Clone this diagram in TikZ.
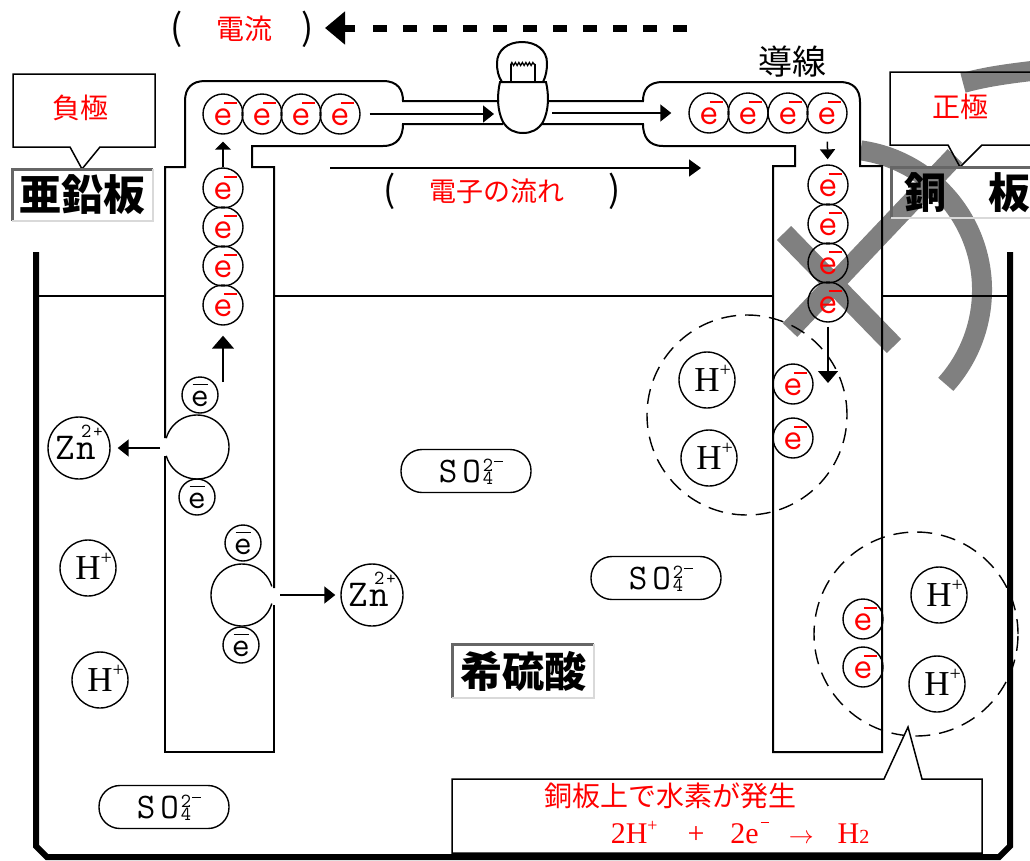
\documentclass[tikz,border=0pt]{standalone}
\usepackage{fontspec}
\setmainfont{Liberation Serif}
\newfontfamily\jp{Noto Sans CJK JP}
\usetikzlibrary{arrows.meta,decorations.pathmorphing}

\newcommand\fsz[1]{\fontsize{#1}{#1}\selectfont}
\newcommand\eneg{e\rlap{\kern-9pt\raisebox{22pt}{\rule{13pt}{1.3pt}}}}
\newcommand\ebar{e\rlap{\kern-16.5pt\raisebox{21pt}{\rule{15pt}{1.3pt}}}}
\newcommand\hion{H\rlap{\smash{\raisebox{15pt}{\fsz{20}+}}}\hspace{10pt}}
\newcommand\znion{Z\kern2pt n\llap{\smash{\raisebox{22pt}{\fsz{20}2}}\kern5pt}\kern-3pt\smash{\raisebox{22pt}{\fsz{18}+}}}
\newcommand\sulfate{S\kern5pt O\kern2pt\rlap{\smash{\raisebox{11pt}{\fsz{20}2}\kern1pt\raisebox{20pt}{\rule{9pt}{1.3pt}}}}\smash{\raisebox{-2pt}{\fsz{20}4}}\hspace{4pt}}

\begin{document}
\begin{tikzpicture}[
					x=1pt,y=-1pt,
					line width=1.5pt,
					wire/.style={line width=2pt},
					ecirc/.style={circle,draw,line width=1.4pt,minimum size=40pt,inner sep=0pt,text=red,font=\ttfamily\fsz{38}},
					esmall/.style={circle,draw,line width=1.4pt,minimum size=36pt,inner sep=0pt,font=\ttfamily\fsz{35}},
					ion/.style={circle,draw,line width=1.4pt,minimum size=56pt,inner sep=0pt,font=\fsz{35}},
					znball/.style={circle,draw,line width=1.4pt,minimum size=62pt,inner sep=0pt,font=\ttfamily\fsz{38}},
					sulf/.style={draw,line width=1.4pt,rounded corners=21pt,minimum width=130pt,minimum height=43pt,inner sep=0pt,font=\ttfamily\fsz{36}},
					zone/.style={circle,draw,line width=1.4pt,dash pattern=on 15pt off 9pt,minimum size=200pt,inner sep=0pt},
					arr/.style={line width=1.5pt,-{Triangle[length=11pt,width=17pt]}},
					xstroke/.style={line width=20pt,draw=gray},
					redlbl/.style={text=red,font=\jp\fsz{28}},
					paren/.style={font=\jp\fsz{36}},
					plate/.style={inner sep=0pt,font=\jp\bfseries\fsz{42}},
					bevdark/.style={line width=3pt,draw=gray!80!black},
					bevlite/.style={line width=2pt,draw=gray!30}
					]

					\useasboundingbox (0,0) rectangle (1030,860);
					\clip (0,0) rectangle (1030,860);

					\draw[xstroke] (784,233) -- (894,346);
					\draw[xstroke] (790,330) -- (955,156);
					\draw[xstroke] (841,290) ++(-82:141) arc[start angle=-82,end angle=42,radius=141];
					\draw[xstroke] (963,83) .. controls (985,77) and (1005,74) .. (1040,70);

					\draw[line width=6pt] (36,252) -- (36,846) -- (47,857) -- (999,857) -- (1010,846) -- (1010,252);
					\draw[line width=1.3pt] (39,296) -- (165,296) (274,296) -- (773,296) (882,296) -- (1007,296);

					\draw[wire] (499,101) -- (403,101) .. controls (403,90) and (398,81) .. (383,81) -- (205,81) .. controls (192,81) and (185,88) .. (185,101) -- (185,167) -- (165,167) -- (165,438);
					\draw[wire] (165,456) -- (165,752) -- (274,752) -- (274,605);
					\draw[wire] (274,588) -- (274,167) -- (252,167) -- (252,146) -- (383,146) .. controls (398,146) and (403,136) .. (403,124) -- (503,124);
					\draw[wire] (548,101) -- (643,101) .. controls (643,90) and (648,82) .. (663,82) -- (840,82) .. controls (853,82) and (860,89) .. (860,102) -- (860,166) -- (882,166) -- (882,752) -- (773,752) -- (773,166) -- (795,166) -- (795,146) -- (663,146) .. controls (648,146) and (643,136) .. (643,124) -- (542,124);

					\draw[wire] (502,82) .. controls (498,76) and (497,70) .. (497,63) .. controls (497,50) and (508,42) .. (522,42) .. controls (536,42) and (547,50) .. (547,63) .. controls (547,70) and (546,76) .. (543,82);
					\draw[wire] (500,82) .. controls (497,95) and (497,110) .. (503,122) .. controls (508,130) and (515,133) .. (523,133) .. controls (531,133) and (538,130) .. (543,122) .. controls (549,110) and (549,95) .. (546,82) -- cycle;
					\draw[line width=1.3pt] (511,82) -- (511,64) (535,64) -- (535,82);
					\draw[line width=1.3pt,decorate,decoration={zigzag,segment length=3.5pt,amplitude=1.5pt}] (511,64) -- (535,64);

					\foreach \i/\x in {1/223,2/262,3/301,4/340} \node[ecirc] (wl\i) at (\x,114) {\eneg};
					\foreach \i/\y in {1/188,2/227,3/266,4/305} \node[ecirc] (cl\i) at (223,\y) {\eneg};
					\foreach \i/\x in {1/709,2/748,3/788,4/827} \node[ecirc] (wr\i) at (\x,113) {\eneg};
					\foreach \i/\y in {1/185,2/224,3/263,4/302} \node[ecirc] (cr\i) at (828,\y) {\eneg};

					\coordinate (lampL) at (494,114);
					\coordinate (lampR) at (552,113);
					\coordinate (up0) at (223,382);
					\coordinate (dn0) at (828,383);
					\draw[arr,shorten <=9pt] (wl4) -- (lampL);
					\draw[arr,shorten >=17pt] (lampR) -- (wr1);
					\draw[arr,-{Triangle[length=8pt,width=16pt]},shorten >=7pt] (cl1) -- (wl1);
					\draw[arr,-{Triangle[length=13pt,width=22pt]},shorten >=10pt] (up0) -- (cl4);
					\draw[arr,-{Triangle[length=10pt,width=15pt]},shorten <=8pt,shorten >=5pt] (wr4) -- (cr1);
					\draw[arr,-{Triangle[length=12pt,width=20pt]},shorten <=4pt] (cr4) -- (dn0);

					\draw[line width=1.4pt] (197,447) ++(-164:32) arc[start angle=-164,end angle=164,radius=32];
					\draw[line width=1.4pt] (242,595) ++(16:31) arc[start angle=16,end angle=344,radius=31];
					\node[esmall] (ea1) at (200,395) {\ebar};
					\node[esmall] (ea2) at (197,497) {\ebar};
					\node[esmall] (eb1) at (243,543) {\ebar};
					\node[esmall] (eb2) at (241,645) {\ebar};
					\node[znball] (zn1) at (79,448) {\znion};
					\node[znball] (zn2) at (372,595) {\znion};
					\coordinate (zl0) at (160,448);
					\coordinate (zr0) at (280,595);
					\draw[arr,shorten >=7pt] (zl0) -- (zn1);
					\draw[arr,shorten >=5pt] (zr0) -- (zn2);

					\node[ion] (h1) at (88,568) {\hion};
					\node[ion] (h2) at (100,680) {\hion};
					\node[ion] (h3) at (707,380) {\hion};
					\node[ion] (h4) at (709,458) {\hion};
					\node[ion] (h5) at (939,595) {\hion};
					\node[ion] (h6) at (937,684) {\hion};

					\node[ecirc] (p1) at (793,384) {\eneg};
					\node[ecirc] (p2) at (793,438) {\eneg};
					\node[ecirc] (p3) at (863,619) {\eneg};
					\node[ecirc] (p4) at (863,667) {\eneg};

					\node[zone] (za) at (747,415) {};
					\node[zone,minimum size=204pt] (zb) at (916,634) {};

					\node[sulf] (s1) at (164,807) {\sulfate};
					\node[sulf] (s2) at (466,471) {\sulfate};
					\node[sulf] (s3) at (656,578) {\sulfate};

					\draw (13,74) -- (155,74) -- (155,147) -- (100,147) -- (82,169) -- (70,147) -- (13,147) -- cycle;
					\node[redlbl] (neg) at (80,108) {負極};
					\draw (1040,72) -- (890,72) -- (890,145) -- (948,145) -- (960,167) -- (982,145) -- (1040,145);
					\node[redlbl] (pos) at (960,107) {正極};

					\node[plate,minimum width=139pt,minimum height=50pt] (znp) at (82.5,195) {亜鉛板};
					\draw[bevdark] (znp.south west) -- (znp.north west) -- (znp.north east);
					\draw[bevlite] (znp.north east) -- (znp.south east) -- (znp.south west);
					\node[plate,minimum width=150pt,minimum height=49pt] (cup) at (967,193) {銅　板\hspace{8pt}};
					\draw[bevdark] (cup.south west) -- (cup.north west) -- (cup.north east);
					\draw[bevlite] (cup.north east) -- (cup.south east) -- (cup.south west);
					\node[plate,minimum width=140pt,minimum height=52pt] (acid) at (523,671) {希硫酸};
					\draw[bevdark] (acid.south west) -- (acid.north west) -- (acid.north east);
					\draw[bevlite] (acid.north east) -- (acid.south east) -- (acid.south west);

					\node[font=\jp\fsz{34}] (lead) at (792,62) {導線};

					\node[redlbl] (cur) at (244,29) {電流};
					\node[paren] (curl) at (177,29) {(};
					\node[paren] (curr) at (308,29) {)};
					\coordinate (cur0) at (701,28);
					\coordinate (cur1) at (373,28);
					\coordinate (cur2) at (355,28);
					\coordinate (cur3) at (325,28);
					\draw[line width=7pt,dash pattern=on 14pt off 16pt] (cur1) -- (cur0);
					\draw[line width=7pt,-{Triangle[length=20pt,width=32pt]}] (cur2) -- (cur3);

					\node[redlbl,font=\jp\fsz{27}] (flow) at (497,191) {電子の流れ};
					\node[paren] (flowl) at (390,191) {(};
					\node[paren] (flowr) at (615,191) {)};
					\coordinate (fl0) at (330,168);
					\coordinate (fl1) at (701,168);
					\draw[arr,-{Triangle[length=12pt,width=17pt]}] (fl0) -- (fl1);

					\draw[fill=white] (452,779) -- (884,779) -- (908,727) -- (922,779) -- (982,779) -- (982,853) -- (452,853) -- cycle;
					\node[redlbl] (note1) at (670,796) {銅板上で水素が発生};
					\node[text=red,font=\fsz{30},anchor=base west,inner sep=0pt] (note2) at (610,843) {2H\smash{\raisebox{12pt}{\fsz{18}+}}\hspace{30pt}+\hspace{26pt}2e\kern2pt\smash{\raisebox{20pt}{\rule{8pt}{1.5pt}}}\hspace{20pt}{\fsz{26}$\rightarrow$}\hspace{24pt}H{\fsz{20}2}};

				\end{tikzpicture}
\end{document}
